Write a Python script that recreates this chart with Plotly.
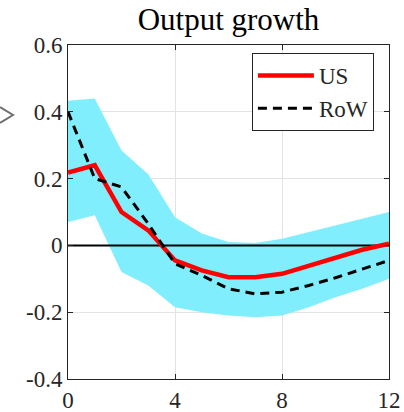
import plotly.graph_objects as go

horizon = list(range(13))
us = [0.218, 0.24, 0.10, 0.045, -0.045, -0.075, -0.095, -0.095, -0.085, -0.06, -0.035, -0.013, 0.005]
row = [0.40, 0.20, 0.175, 0.065, -0.055, -0.09, -0.13, -0.145, -0.14, -0.12, -0.097, -0.07, -0.045]
band_upper = [0.433, 0.44, 0.284, 0.213, 0.084, 0.036, 0.01, 0.007, 0.02, 0.04, 0.06, 0.08, 0.10]
band_lower = [0.07, 0.09, -0.08, -0.12, -0.185, -0.20, -0.21, -0.215, -0.21, -0.185, -0.155, -0.13, -0.10]

xticks = [0, 4, 8, 12]
yticks = [-0.4, -0.2, 0, 0.2, 0.4, 0.6]
ytick_labels = ["-0.4", "-0.2", "0", "0.2", "0.4", "0.6"]

FONT = "Liberation Serif"
AX = "#262626"
BAND = "#80EEFD"

fig = go.Figure()
fig.add_trace(go.Scatter(x=horizon, y=band_upper, mode="lines", line=dict(width=0, color=BAND),
                         showlegend=False, hoverinfo="skip"))
fig.add_trace(go.Scatter(x=horizon, y=band_lower, mode="lines", line=dict(width=0, color=BAND),
                         fill="tonexty", fillcolor=BAND, showlegend=False, hoverinfo="skip"))
fig.add_trace(go.Scatter(x=[horizon[0], horizon[-1]], y=[0, 0], mode="lines",
                         line=dict(color="black", width=2), showlegend=False, hoverinfo="skip"))
fig.add_trace(go.Scatter(x=horizon, y=us, mode="lines", name="US",
                         line=dict(color="#FF0000", width=4.5)))
fig.add_trace(go.Scatter(x=horizon, y=row, mode="lines", name="RoW",
                         line=dict(color="black", width=3, dash="9px,6px")))

axis_common = dict(showline=True, linecolor=AX, linewidth=1, mirror="allticks",
                   ticks="inside", ticklen=5, tickcolor=AX, automargin=False,
                   showgrid=True, gridcolor="#E3E3E3", gridwidth=1, zeroline=False,
                   tickfont=dict(family=FONT, size=23, color=AX))

fig.update_xaxes(range=[0, 12], tickvals=xticks, ticktext=[str(v) for v in xticks],
                 title_text="", **axis_common)
fig.update_yaxes(range=[-0.4, 0.6], tickvals=yticks, ticktext=ytick_labels,
                 title_text="", **axis_common)

# clipped fragment of a rotated label at the far left edge (a ">" chevron)
L, R, T, B = 68, 389, 45, 379
def px(xp):
    return (xp - L) / (R - L)
def py(yp):
    return (B - yp) / (B - T)
fig.add_shape(type="path", xref="paper", yref="paper",
              path=f"M {px(0)},{py(107)} L {px(13)},{py(115)} L {px(0)},{py(123)}",
              line=dict(color="#6E6E6E", width=2))

fig.update_layout(
    width=404, height=412,
    margin=dict(l=L, r=404 - R, t=T, b=412 - B, autoexpand=False),
    paper_bgcolor="white", plot_bgcolor="white",
    title=dict(text="Output growth", x=0.5 * (L + R) / 404, xanchor="center",
               y=1 - 19 / 412, yanchor="middle",
               font=dict(family=FONT, size=31, color="black")),
    legend=dict(x=0.953, y=0.976, xanchor="right", yanchor="top", traceorder="normal",
                bgcolor="white", bordercolor=AX, borderwidth=1,
                font=dict(family=FONT, size=23, color=AX),
                itemwidth=56, tracegroupgap=0),
    showlegend=True,
)

fig.write_html("out.html")
